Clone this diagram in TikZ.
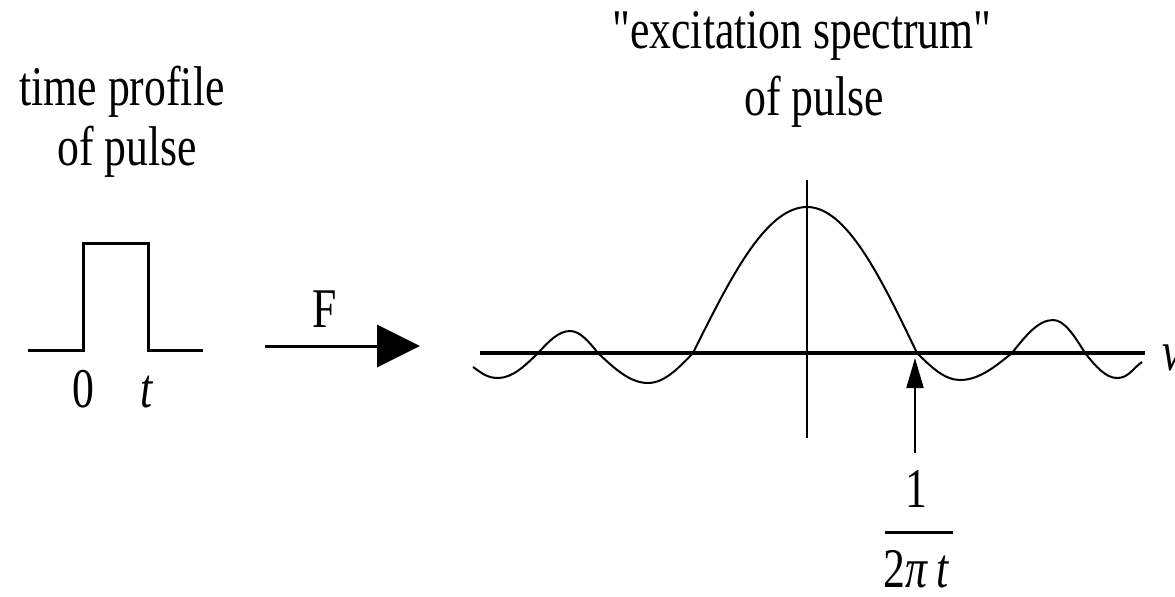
\documentclass[tikz,border=0pt]{standalone}
\usepackage{fontspec}
\setmainfont{Liberation Serif}[FakeStretch=0.78,Ligatures=TeXOff]
\usetikzlibrary{arrows.meta}
\begin{document}
\begin{tikzpicture}[x=0.5pt,y=-0.5pt,
  lbl/.style={inner sep=0pt,anchor=base,font=\fontsize{28}{33}\selectfont},
  pulseline/.style={line width=1.5pt,line join=miter},
  axisline/.style={line width=2pt},
  curveline/.style={line width=1pt},
  bigarrow/.style={line width=1.5pt,-{Triangle[length=21.5pt,width=21pt]}},
  smallarrow/.style={line width=1pt,-{Triangle[length=15pt,width=8.5pt]}}]
\useasboundingbox (0,0) rectangle (1175,596);
% left titles
\node[lbl] (tpA) at (122,105) {time profile};
\node[lbl] (tpB) at (127,165) {of pulse};
% pulse
\draw[pulseline] (28,350) -- (83,350) -- (83,243) -- (148,243) -- (148,350) -- (203,350);
\node[lbl] (zero) at (83,407) {0};
\node[lbl] (tt) at (147,407) {\itshape t};
% Fourier arrow
\coordinate (fa) at (265,346);
\coordinate (fb) at (420,346);
\draw[bigarrow] (fa) -- (fb);
\node[lbl] (F) at (325,327) {F};
% spectrum titles
\node[lbl] (esA) at (802,48) {"excitation spectrum"};
\node[lbl] (esB) at (814,115) {of pulse};
% axes
\draw[axisline] (480,353) -- (1145,353);
\draw[curveline] (807,180) -- (807,438);
\node[lbl,anchor=base west] (nu) at (1162,370) {\itshape ν};
% sinc curve
\draw[curveline] (473,367) to[out=-35,in=180] (498,378)
  cos (538,353) sin (570,331) cos (598,353) sin (648,383) cos (693,353)
  sin (807,207) cos (917,353) sin (960,380) cos (1012,353) sin (1053,320)
  cos (1085,353) sin (1117,378) to[out=0,in=-145] (1142,362);
% marker arrow
\coordinate (ma) at (915,453);
\coordinate (mb) at (915,358);
\draw[smallarrow] (ma) -- (mb);
\node[lbl] (one) at (916,507) {1};
\draw[line width=1.5pt] (885,532) -- (953,532);
\node[lbl] (den) at (916,587) {2{\itshape π\,t}};
\end{tikzpicture}
\end{document}
